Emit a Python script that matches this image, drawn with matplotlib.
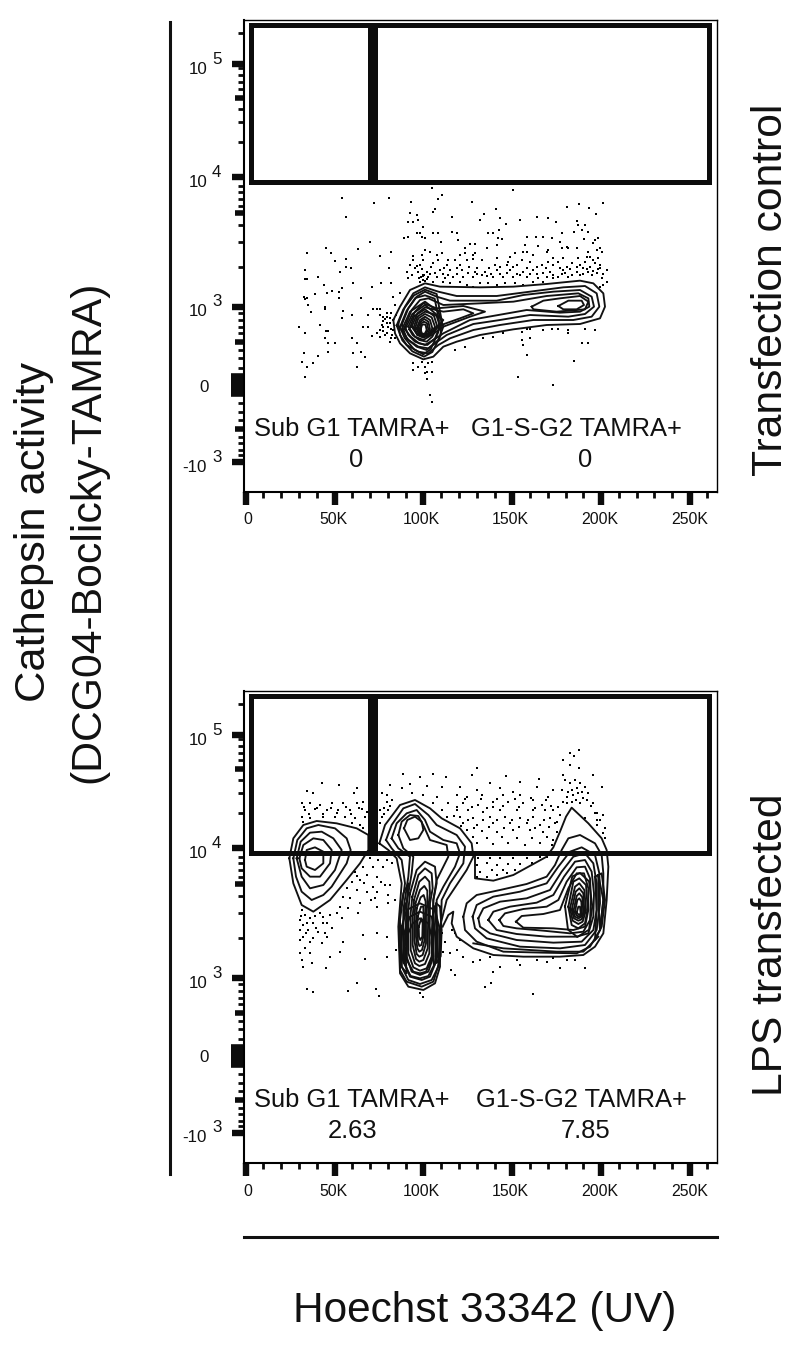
import numpy as np
import matplotlib
matplotlib.use('Agg')
import matplotlib.pyplot as plt

plt.rcParams['font.family'] = ['Liberation Sans', 'DejaVu Sans']

# axes are in display channels (x 0-1419, y 0-1416), as on a cytometer plot
x_major = [5, 272, 538, 805, 1071, 1337]
x_minor = [58, 112, 165, 218, 325, 378, 432, 485, 591, 645, 698, 752, 858, 911, 965, 1018, 1125, 1178, 1231, 1284, 1390]
x_labels = ['0', '50K', '100K', '150K', '200K', '250K']
x_label_pos = [12, 267, 531, 798, 1068, 1338]

y_major = [1284, 945, 555, 90]
y_mid = [1182, 837, 450, 189]
y_zero = 321
y_minor = [1377, 1272, 1251, 1230, 1209, 1149, 1110, 1050, 918, 900, 879, 858, 801, 750, 675, 537, 516, 495, 477,
           426, 402, 372, 267, 240, 216, 165, 147, 126, 111]
y_bases = ['10', '10', '10', '-10']
y_exps = ['5', '4', '3', '3']

gates = [(22, 931, 378, 1400), (393, 931, 1395, 1400)]

top_names = ['Sub G1 TAMRA+', 'G1-S-G2 TAMRA+']
top_freqs = ['0', '0']
bottom_names = ['Sub G1 TAMRA+', 'G1-S-G2 TAMRA+']
bottom_freqs = ['2.63', '7.85']

top_contours = [
    [(448,516),(468,556),(498,606),(543,626),(588,616),(708,614),(808,616),(908,624),(1008,634),(1048,626),(1078,596),(1083,556),(1068,521),(1008,504),(908,501),(808,488),(708,471),(638,451),(598,436),(568,406),(538,398),(498,416),(468,446),(453,476)],
    [(463,506),(483,556),(508,596),(543,614),(583,601),(638,588),(758,588),(858,601),(958,614),(1023,618),(1058,596),(1066,556),(1043,526),(988,516),(868,516),(768,501),(688,486),(618,461),(583,441),(553,416),(523,421),(488,441),(468,471)],
    [(473,501),(493,551),(518,586),(543,601),(578,586),(618,574),(758,574),(838,591),(928,601),(1008,606),(1043,586),(1050,556),(1023,534),(973,526),(858,531),(768,516),(688,504),(608,471),(573,446),(548,426),(518,436),(488,461)],
    [(483,496),(503,546),(528,576),(553,581),(598,561),(708,566),(808,571),(908,588),(1003,596),(1033,581),(1036,556),(1008,541),(948,538),(848,546),(763,531),(678,516),(598,476),(568,456),(543,441),(513,451),(493,471)],
    [(493,496),(513,541),(538,566),(578,551),(658,558),(723,541),(678,526),(598,496),(563,471),(538,456),(513,466)],
    [(863,556),(898,574),(948,581),(1008,588),(1033,571),(1023,548),(938,541),(868,548)],
    [(943,558),(973,574),(1013,574),(1020,561),(998,548),(958,548)],
    [(503,496),(520,536),(543,554),(598,541),(658,548),(688,536),(648,521),(578,496),(558,476),(538,466),(518,476)],
    [(508,491),(520,526),(543,541),(568,534),(598,516),(578,491),(563,476),(543,471),(520,471)],
    [(513,491),(523,521),(543,534),(563,524),(573,496),(558,471),(538,463),(520,471)],
    [(518,491),(528,516),(543,526),(558,516),(565,491),(553,471),(538,466),(525,471)],
    [(522,491),(530,511),(541,519),(553,511),(558,489),(550,471),(538,468),(528,473)],
    [(526,488),(532,506),(540,511),(549,506),(553,488),(546,474),(538,471),(530,476)],
    [(530,488),(534,501),(539,503),(545,501),(548,486),(543,476),(538,474),(533,477)],
    [(473,486),(498,541),(543,571),(583,541),(598,496),(583,456),(553,431),(523,436),(493,456)],
    [(483,488),(505,534),(543,561),(576,534),(588,496),(573,461),(550,441),(525,446),(500,466)],
    [(496,488),(511,528),(543,548),(570,528),(580,496),(565,466),(548,451),(526,456),(506,471)],
    [(458,500),(478,548),(510,590),(543,607),(578,594),(592,520),(590,470),(565,420),(540,406),(505,422),(475,455)],
    [(468,495),(488,544),(514,582),(543,590),(572,580),(585,515),(583,480),(560,428),(538,413),(510,428),(482,462)],
]

top_dots = [
    (295,881),(390,866),(435,881),(307,824),(378,750),(341,728),(188,716),(246,731),(260,716),(273,694),(306,698),(184,666),(306,676),(320,671),(288,659),(183,638),(190,638),(221,644),(328,626),(241,621),(383,616),(295,611),(286,601),(263,604),(248,598),(213,594),(180,586),(190,581),(183,578),(286,581),(351,582),(193,561),(200,541),(243,556),(243,548),(298,544),(323,531),(293,521),(228,501),(166,494),(183,478),(245,483),(253,483),(243,461),(253,448),(273,448),(323,461),(338,448),(253,421),(180,416),(328,416),(351,421),(363,406),(223,409),(173,391),(208,388),(188,376),(340,376),(184,344),(373,531),(386,548),(398,548),(408,548),(408,531),(418,526),(428,526),(358,496),(373,494),(383,469),(398,476),(408,486),(418,496),(428,506),(438,521),(408,466),(423,471),(438,451),(448,486),(438,506),(468,596),(448,586),(453,561),(408,708),(440,721),(435,671),(410,626),(440,628),
    (563,911),(595,891),(583,878),(501,871),(685,871),(806,906),(573,848),(518,831),(568,841),(623,826),(756,848),(720,833),(708,816),(768,821),(878,826),(913,821),(828,816),(935,811),(968,854),(1006,863),(1078,866),(1036,851),(1056,834),(1000,814),(1003,801),(1023,801),(1013,786),(1033,781),(990,779),(493,811),(508,811),(523,816),(498,836),(538,796),(528,776),(518,776),(533,766),(543,761),(568,776),(583,778),(623,781),(638,776),(733,778),(748,778),(785,804),(765,786),(761,761),(773,759),(480,761),(493,766),(643,756),(848,766),(876,766),(898,766),(923,761),(953,776),(948,751),(968,736),(1020,758),(1053,756),(1063,761),(1048,746),(1068,731),
    (590,751),(663,731),(678,744),(693,744),(728,731),(758,741),(843,741),(883,738),(913,726),(953,731),(973,731),(998,731),(1033,721),(1058,726),(1073,721),(543,726),(558,721),(508,708),(533,711),(578,711),(593,716),(648,711),(663,716),(688,711),(693,716),(758,701),(798,706),(813,716),(838,721),(848,721),(868,711),(908,721),(928,701),(958,701),(1003,701),(1038,706),(1063,701),
    (508,696),(538,696),(583,696),(613,696),(633,696),(668,696),(688,698),(713,696),(793,691),(833,696),(858,691),(913,691),(943,691),(983,686),(1023,691),(1053,686),(498,681),(528,681),(568,686),(608,681),(648,681),(753,681),(788,681),(818,681),(893,681),(928,681),(968,676),(1008,681),(1038,676),(1068,671),
    (488,661),(523,661),(548,661),(588,666),(618,666),(653,666),(693,661),(723,661),(758,666),(798,666),(838,661),(868,666),(918,661),(958,666),(998,661),(1033,661),(1058,656),(1088,666),
    (493,641),(538,651),(553,646),(578,646),(603,641),(628,646),(658,646),(688,646),(713,651),(748,646),(778,646),(808,646),(848,646),(883,641),(908,646),(943,646),(973,646),(1008,651),(1043,651),(1073,641),(1088,631),
    (528,631),(568,631),(598,631),(618,626),(648,631),(668,621),(688,616),(708,626),(733,626),(758,621),(783,626),(813,626),(838,621),(868,631),(898,631),(928,641),(1068,616),(1078,621),
    (848,488),(833,481),(858,488),(898,486),(923,488),(943,488),(973,486),(1023,488),(1053,486),(718,461),(748,466),(778,476),(833,456),(858,461),(838,441),(973,476),(1013,446),(1033,448),(633,426),(663,434),(848,411),(990,393),(823,344),(928,321),(558,291),(565,269),(508,366),(523,376),(533,391),(543,376),(553,386),(563,391),(548,361),(563,361),(543,356),(508,386),(550,338),(538,648),
    (503,651),(513,671),(533,668),(558,654),(572,656),(598,654),(612,651),(638,654),(672,656),(700,654),(728,648),(742,654),(768,654),(788,656),(818,654),(828,651),(858,654),(878,654),(898,656),(928,651),(953,654),(963,658),(985,651),(1018,654),(1028,668),(1048,664),(1063,668),(1078,654),(1068,680),(1046,696),(1030,706),(1018,671),(1000,674),(978,668),(948,672),(905,672),(880,676),(848,672),(808,676),(768,676),(735,672),(700,672),(675,676),(640,672),(600,672),(560,676),(520,678),
    (416,512),(424,518),(432,496),(440,490),(430,478),(418,482),(414,502),(444,472),(452,462),(442,462),(430,536),(442,538),(456,530),(540,652),(548,640),(536,636),(544,634),(524,642),(532,644),
]

bottom_contours = [
    [(136,914),(148,974),(178,1014),(218,1026),(278,1019),(338,1004),(373,984),(373,939),(348,899),(308,849),(258,789),(208,754),(173,774),(148,839)],
    [(148,914),(160,969),(188,1004),(223,1014),(273,1004),(308,974),(320,939),(308,899),(263,829),(238,804),(203,789),(173,814),(156,859)],
    [(158,914),(170,964),(198,991),(233,994),(268,974),(293,939),(273,879),(238,834),(198,824),(173,859)],
    [(166,914),(178,954),(208,974),(238,969),(263,939),(258,899),(228,859),(198,859),(173,884)],
    [(183,909),(188,939),(213,947),(238,934),(238,899),(213,879),(188,889)],
    [(406,959),(423,1014),(468,1074),(513,1089),(558,1064),(593,1034),(648,1004),(683,959),(688,919),(668,879),(628,819),(608,789),(588,709),(588,589),(573,539),(538,519),(493,529),(468,569),(463,709),(473,839),(458,914),(433,939)],
    [(426,969),(443,1014),(478,1064),(513,1077),(553,1044),(578,1014),(638,984),(663,949),(658,899),(618,839),(593,789),(588,609),(568,544),(533,529),(488,544),(468,579),(468,729),(483,839),(473,909),(443,944)],
    [(443,974),(458,1019),(488,1049),(518,1059),(543,1029),(558,994),(598,969),(638,959),(648,929),(633,889),(598,829),(578,789),(578,609),(558,559),(533,549),(498,559),(478,609),(478,759),(493,859),(498,919),(463,944)],
    [(463,984),(473,1024),(498,1044),(523,1041),(540,1009),(558,969),(608,954),(613,919),(578,849),(568,789),(568,619),(553,574),(528,564),(503,574),(488,619),(488,779),(503,869),(508,919),(478,944)],
    [(480,1004),(490,1029),(513,1039),(533,1024),(538,999),(523,974),(498,969)],
    [(498,809),(518,879),(543,904),(573,889),(578,839),(568,789),(563,619),(548,584),(528,577),(508,587),(493,629),(493,759)],
    [(505,799),(523,864),(543,884),(563,869),(566,824),(558,779),(556,629),(543,597),(526,591),(513,599),(500,639),(500,749)],
    [(510,789),(526,844),(543,859),(556,844),(558,809),(553,769),(551,644),(538,609),(526,604),(516,612),(506,654),(506,739)],
    [(514,779),(528,819),(541,831),(550,817),(550,779),(546,739),(546,659),(536,624),(526,619),(518,627),(511,669),(511,729)],
    [(518,764),(530,797),(539,804),(545,784),(543,739),(542,669),(534,639),(526,634),(520,644),(516,679),(516,719)],
    [(521,739),(531,769),(538,769),(539,729),(538,679),(532,654),(526,651),(522,664),(520,699)],
    [(524,709),(532,734),(536,719),(535,679),(529,669),(525,679)],
    [(473,709),(488,759),(528,779),(573,759),(588,699),(583,589),(563,549),(528,537),(493,549),(473,589)],
    [(480,689),(498,739),(528,754),(563,739),(576,679),(573,599),(553,561),(528,554),(500,561),(480,599)],
    [(488,679),(506,719),(528,734),(553,719),(566,669),(563,609),(546,574),(528,569),(508,574),(488,609)],
    [(468,749),(478,809),(493,839),(488,779),(483,649),(488,569),(473,589),(466,649)],
    [(588,769),(593,699),(590,620),(578,600),(572,700),(576,780)],
    [(658,739),(668,779),(698,804),(768,819),(848,837),(908,859),(933,894),(953,939),(973,974),(1008,984),(1053,959),(1073,924),(1078,869),(1078,789),(1068,699),(1038,649),(998,629),(898,631),(778,634),(698,664),(663,699)],
    [(686,739),(698,774),(748,799),(828,814),(908,839),(943,889),(978,934),(1013,947),(1053,924),(1066,869),(1068,779),(1058,699),(1023,654),(948,644),(828,649),(728,674),(693,704)],
    [(703,734),(718,764),(768,784),(848,794),(918,819),(953,874),(988,919),(1023,929),(1048,899),(1058,839),(1058,759),(1048,699),(1013,664),(928,661),(818,669),(738,689),(708,709)],
    [(733,729),(748,754),(798,769),(878,781),(928,804),(960,859),(993,904),(1023,909),(1043,874),(1050,809),(1048,739),(1033,689),(998,679),(908,679),(818,687),(758,699)],
    [(766,729),(783,749),(838,762),(908,769),(943,789),(968,844),(998,887),(1023,889),(1038,854),(1041,789),(1038,729),(1018,694),(978,689),(898,697),(818,704),(778,711)],
    [(816,724),(833,741),(898,747),(948,759),(973,824),(998,869),(1020,869),(1033,824),(1033,759),(1023,709),(988,699),(928,704),(838,706)],
    [(973,769),(988,844),(1006,854),(1026,834),(1031,764),(1023,719),(1003,704),(983,714)],
    [(978,764),(993,829),(1006,839),(1021,819),(1026,759),(1016,724),(1003,717),(986,727)],
    [(983,759),(995,814),(1006,824),(1018,809),(1021,754),(1013,731),(1003,727),(990,734)],
    [(988,754),(998,801),(1006,809),(1015,797),(1018,751),(1010,737),(1003,734),(993,739)],
    [(993,754),(1000,789),(1006,794),(1012,784),(1014,749),(1008,741),(1003,739),(997,744)],
    [(998,751),(1003,769),(1008,769),(1010,749),(1005,744)],
    [(1053,859),(1073,869),(1083,789),(1073,709),(1053,669),(1058,759)],
    [(1063,864),(1078,789),(1068,699),(1063,779)],
    [(963,770),(985,860),(1008,870),(1035,845),(1045,770),(1035,700),(1000,678),(972,700)],
    [(470,650),(478,720),(483,780),(492,740),(488,640),(478,600)],
    [(574,770),(582,700),(580,620),(570,590),(562,660),(566,740)],
]

bottom_open_contours = [
    [(693,919),(693,854),(748,847),(808,864),(908,919),(928,947),(948,994),(966,1039),(983,1066),(1033,1019),(1073,974),(1088,939),(1093,889),(1088,789),(1078,689),(1053,649),(1018,624),(948,619),(838,619),(748,624),(688,644),(638,679),(623,719),(628,754),(613,744),(596,709)],
    [(688,659),(778,644),(938,634),(1018,634),(1063,679)],
]

bottom_dots = [
    (700,1184),(1005,1184),(978,1194),(478,1167),(568,1167),(528,1157),(605,1159),(685,1164),(785,1162),(738,1139),(828,1144),(885,1151),(958,1164),(1046,1164),(1073,1129),(235,1139),(285,1134),(188,1117),(208,1109),(338,1124),(330,1109),(438,1134),(413,1109),(473,1124),(443,1089),
    (963,1149),(978,1139),(993,1149),(1008,1139),(1023,1129),(1033,1109),(953,1119),(973,1114),(988,1104),(1003,1109),(1018,1094),(958,1084),(983,1084),(1008,1079),(943,1069),(1048,1079),(978,1229),(1005,1239),(990,1221),(958,1209),
    (498,1137),(548,1131),(593,1129),(648,1129),(698,1119),(768,1124),(808,1114),(878,1129),(928,1119),
    (428,1104),(503,1109),(538,1104),(578,1099),(638,1104),(668,1099),(713,1104),(748,1084),(778,1104),(828,1104),(868,1089),(913,1099),
    (173,1079),(198,1081),(228,1074),(263,1079),(298,1081),(338,1079),(358,1084),(428,1084),(568,1079),(613,1081),(658,1079),(703,1074),(748,1069),(793,1084),(838,1079),(893,1074),(928,1059),
    (183,1059),(213,1061),(248,1059),(283,1059),(318,1059),(353,1061),(408,1059),(433,1059),(593,1059),(638,1059),(673,1059),(718,1054),(768,1059),(818,1059),(868,1059),(903,1059),(1053,1049),(1078,1044),
    (173,1039),(198,1034),(238,1039),(273,1037),(303,1039),(333,1034),(363,1039),(413,1039),(608,1039),(648,1039),(688,1034),(738,1039),(783,1039),(828,1034),(868,1039),(918,1034),(948,1044),(1023,1034),(1068,1029),
    (178,1024),(323,1019),(348,1014),(408,1019),(658,1019),(698,1014),(748,1019),(798,1019),(848,1019),(888,1014),(933,1019),(1058,1014),(1083,1004),
    (358,1004),(668,999),(713,997),(758,994),(808,999),(858,999),(898,994),(938,994),(1078,989),
    (688,979),(728,974),(773,979),(818,974),(863,974),(908,979),(928,969),(1083,974),
    (698,959),(748,957),(793,959),(843,954),(888,959),(923,954),
    (703,914),(738,914),(768,914),(808,914),(848,914),(888,919),(908,919),(698,894),(728,899),(758,894),(793,897),(828,897),(863,899),(708,874),(743,879),(778,879),(813,879),(698,859),(728,859),(760,864),(788,869),
    (378,914),(403,909),(428,909),(388,889),(418,889),(443,899),(358,889),(333,874),(368,864),(398,859),(348,849),(323,844),(388,829),(423,834),(438,834),(308,824),(338,819),(368,814),(433,804),(453,789),(298,799),(318,794),(348,779),(393,794),(433,779),(288,769),(313,764),(343,749),(398,769),
    (173,759),(183,744),(168,729),(198,734),(228,749),(238,739),(258,744),(278,749),(293,734),(178,714),(208,719),(248,719),(168,699),(193,699),(223,694),(243,689),(263,704),(178,679),(208,674),(233,659),(168,669),(198,664),(248,679),(298,664),(358,684),(398,689),(428,679),(183,644),(168,629),(198,629),(173,609),(203,599),(178,589),(258,619),(288,634),(363,611),(428,617),(245,584),(456,639),
    (188,522),(208,514),(340,539),(313,517),(396,522),(406,501),(528,509),(538,497),(723,529),(740,539),(868,506),(748,574),(633,564),(620,579),(1023,584),(948,584),(828,594),(768,589),(688,604),(708,609),(738,619),(658,619),(638,639),(618,629),(598,634),(623,699),(633,689),(648,669),(603,664),(593,689),(968,609),(928,614),(878,609),(818,609),(908,604),(993,609),
    (630,1040),(672,1028),(716,1030),(760,1028),(804,1030),(852,1028),(900,1030),(940,1022),(640,1068),(684,1068),(730,1064),(778,1070),(826,1068),(874,1066),(920,1070),(662,1092),(710,1092),(760,1092),(812,1092),(860,1096),(905,1090),(650,1010),(690,1006),(735,1008),(780,1006),(826,1008),(872,1006),(915,1008),
    (970,1098),(985,1120),(1000,1124),(1015,1112),(1030,1090),(1040,1070),(1060,1050),(1060,1030),(996,1090),(968,1080),(180,1068),(220,1064),(262,1066),(306,1068),(346,1066),(194,1048),(236,1048),(278,1050),(322,1046),(370,1052),(420,1048),(438,1070),(420,1066),(172,740),(190,720),(214,740),(236,720),(186,690),(216,704),(340,860),(360,840),(400,812),(412,844),(380,790),
]


def draw_panel(ax, contours, open_contours, dots, names, freqs, name_pos, freq_pos):
    dx, dy = np.array(dots).T
    ax.scatter(dx, dy, marker='s', s=3.0, linewidths=0, color='black', zorder=2)
    for c in contours:
        xs, ys = np.array(c + c[:1]).T
        ax.plot(xs, ys, color='#111111', lw=1.35, solid_joinstyle='round', zorder=3)
    for c in open_contours:
        xs, ys = np.array(c).T
        ax.plot(xs, ys, color='#111111', lw=1.35, solid_joinstyle='round', zorder=3)
    for x0, y0, x1, y1 in gates:
        ax.add_patch(plt.Rectangle((x0, y0), x1 - x0, y1 - y0, fill=False, edgecolor='#0c0c0c',
                                   lw=3.6, joinstyle='miter', zorder=4))
    for (nx, ny), name in zip(name_pos, names):
        ax.text(nx, ny, name, fontsize=18.4, ha='center', va='center', color='#111111')
    for (fx, fy), freq in zip(freq_pos, freqs):
        ax.text(fx, fy, freq, fontsize=18.4, ha='center', va='center', color='#111111')

    ax.set_xlim(0, 1419)
    ax.set_ylim(0, 1416)
    for s in ['top', 'right']:
        ax.spines[s].set_linewidth(1.0)
    for s in ['left', 'bottom']:
        ax.spines[s].set_linewidth(1.5)

    ax.set_xticks(x_major)
    ax.set_xticks(x_minor, minor=True)
    ax.set_yticks(y_major)
    ax.set_yticks(y_minor, minor=True)
    ax.set_xticklabels([])
    ax.set_yticklabels([])
    ax.tick_params(axis='both', which='major', length=9, width=4.6, color='#0c0c0c')
    ax.tick_params(axis='both', which='minor', length=4.4, width=2.0, color='#0c0c0c')
    # mid ticks and the wide block at zero
    tr = ax.get_yaxis_transform()
    for y in y_mid:
        ax.plot([-0.019, 0], [y, y], transform=tr, color='#0c0c0c', lw=4.0, clip_on=False, solid_capstyle='butt')
    ax.plot([-0.027, 0], [y_zero, y_zero], transform=tr, color='#0c0c0c', lw=17, clip_on=False, solid_capstyle='butt')

    for pos, lab in zip(x_label_pos, x_labels):
        ax.text(pos, -84, lab, fontsize=11.4, ha='center', va='center', color='#111111')
    for y, base, exp in zip(y_major, y_bases, y_exps):
        ax.text(-111, y - 15, base, fontsize=12.2, ha='right', va='center', color='#111111')
        ax.text(-96, y + 15, exp, fontsize=12.2, ha='left', va='center', color='#111111')
    ax.text(-105, y_zero - 6, '0', fontsize=12.2, ha='right', va='center', color='#111111')


fig = plt.figure(figsize=(8, 13.51), dpi=100)
ax_top = fig.add_axes([244 / 800, 1 - 492 / 1351, 473 / 800, 472 / 1351])
ax_bottom = fig.add_axes([244 / 800, 1 - 1163 / 1351, 473 / 800, 472 / 1351])

draw_panel(ax_top, top_contours, [], top_dots, top_names, top_freqs,
           [(324, 189), (996, 189)], [(336, 96), (1023, 96)])
draw_panel(ax_bottom, bottom_contours, bottom_open_contours, bottom_dots, bottom_names, bottom_freqs,
           [(324, 189), (1011, 189)], [(327, 96), (1026, 96)])

# frame lines and outer labels
fig.add_artist(plt.Line2D([170 / 800, 170 / 800], [1 - 22 / 1351, 1 - 1174 / 1351], color='#111111', lw=2.2))
fig.add_artist(plt.Line2D([244 / 800, 717 / 800], [1 - 1237 / 1351, 1 - 1237 / 1351], color='#111111', lw=2.2))

fig.text(34 / 800, 1 - 532 / 1351, 'Cathepsin activity', fontsize=31.2, rotation=90, ha='center', va='center', color='#111111')
fig.text(88 / 800, 1 - 532 / 1351, '(DCG04-Boclicky-TAMRA)', fontsize=30.8, rotation=90, ha='center', va='center', color='#111111')
fig.text(771 / 800, 1 - 290 / 1351, 'Transfection control', fontsize=30.7, rotation=90, ha='center', va='center', color='#111111')
fig.text(771 / 800, 1 - 945 / 1351, 'LPS transfected', fontsize=30.6, rotation=90, ha='center', va='center', color='#111111')
fig.text(485 / 800, 1 - 1311 / 1351, 'Hoechst 33342 (UV)', fontsize=30.5, ha='center', va='center', color='#111111')

fig.savefig('out.png', dpi=100)
